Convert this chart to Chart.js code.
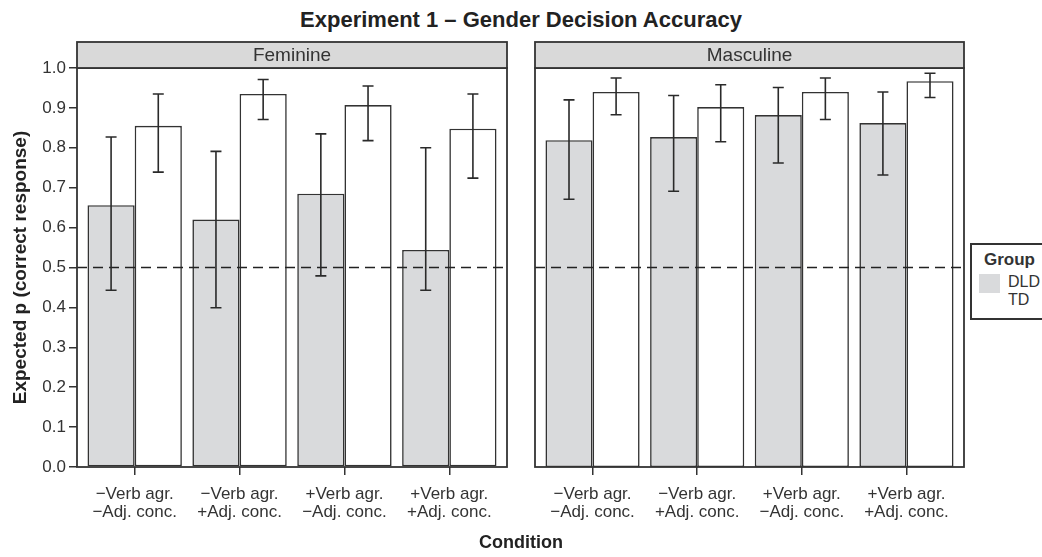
<!DOCTYPE html>
<html>
<head>
<meta charset="utf-8">
<script src="https://cdn.jsdelivr.net/npm/chart.js@4"></script>
<style>
  body { margin: 0; background: #fff; overflow: hidden; font-family: 'Liberation Sans', Arial, sans-serif; }
  #wrap { position: relative; width: 1042px; height: 557px; }
  canvas { position: absolute; top: 0; }
  #title { position: absolute; left: 0; width: 1042px; top: 7px; text-align: center; font-weight: bold; font-size: 22px; color: #222; }
  #xtitle { position: absolute; left: 0; width: 1042px; top: 532px; text-align: center; font-weight: bold; font-size: 18px; color: #222; }
  #legend { position: absolute; left: 970px; top: 243px; width: 90px; height: 73px; border: 2px solid #333; color: #333; }
  #legend .head { position: absolute; left: 12px; top: 5px; font-weight: bold; font-size: 17px; }
  #legend .sw { position: absolute; left: 7px; top: 29px; width: 21px; height: 19px; background: #d9dadc; }
  #legend .lab { position: absolute; left: 36px; font-size: 16px; }
</style>
</head>
<body>
<div id="wrap">
  <div id="title">Experiment 1 – Gender Decision Accuracy</div>
  <canvas id="femChart" width="512" height="557" style="left:0"></canvas>
  <canvas id="mascChart" width="450" height="557" style="left:520px"></canvas>
  <div id="xtitle">Condition</div>
  <div id="legend">
    <div class="head">Group</div>
    <div class="sw"></div>
    <div class="lab" style="top:28px">DLD</div>
    <div class="lab" style="top:46px">TD</div>
  </div>
</div>
<script>
const categories = [
  ['−Verb agr.', '−Adj. conc.'],
  ['−Verb agr.', '+Adj. conc.'],
  ['+Verb agr.', '−Adj. conc.'],
  ['+Verb agr.', '+Adj. conc.']
];
const yTicks = [0, 0.1, 0.2, 0.3, 0.4, 0.5, 0.6, 0.7, 0.8, 0.9, 1.0];
const chanceLevel = 0.5;

// Feminine panel
const femDLD = [0.656, 0.620, 0.685, 0.544];
const femDLDLow = [0.443, 0.399, 0.479, 0.443];
const femDLDHigh = [0.827, 0.791, 0.835, 0.800];
const femTD = [0.855, 0.935, 0.907, 0.848];
const femTDLow = [0.739, 0.871, 0.818, 0.724];
const femTDHigh = [0.935, 0.971, 0.955, 0.935];

// Masculine panel
const mascDLD = [0.819, 0.827, 0.882, 0.862];
const mascDLDLow = [0.671, 0.691, 0.762, 0.732];
const mascDLDHigh = [0.920, 0.931, 0.951, 0.940];
const mascTD = [0.940, 0.902, 0.940, 0.967];
const mascTDLow = [0.883, 0.815, 0.871, 0.926];
const mascTDHigh = [0.975, 0.958, 0.975, 0.987];

Chart.defaults.font.family = "'Liberation Sans', Arial, sans-serif";
Chart.defaults.color = '#333';

const lineColor = '#333';

// strip, frame, dashed chance line and error bars
const panelDecor = {
  id: 'panelDecor',
  afterDatasetsDraw(chart, args, opts) {
    const { ctx, chartArea: a, scales } = chart;
    const y = scales.y;
    ctx.save();
    ctx.strokeStyle = '#222';
    ctx.lineWidth = 1.5;
    ctx.setLineDash([10, 6]);
    const yc = y.getPixelForValue(chanceLevel);
    ctx.beginPath();
    ctx.moveTo(a.left, yc);
    ctx.lineTo(a.right, yc);
    ctx.stroke();
    ctx.setLineDash([]);

    ctx.strokeStyle = '#2a2a2a';
    ctx.lineWidth = 1.6;
    chart.data.datasets.forEach((ds, i) => {
      chart.getDatasetMeta(i).data.forEach((bar, j) => {
        const lo = y.getPixelForValue(ds.lows[j]);
        const hi = y.getPixelForValue(ds.highs[j]);
        ctx.beginPath();
        ctx.moveTo(bar.x, lo); ctx.lineTo(bar.x, hi);
        ctx.moveTo(bar.x - 5.5, lo); ctx.lineTo(bar.x + 5.5, lo);
        ctx.moveTo(bar.x - 5.5, hi); ctx.lineTo(bar.x + 5.5, hi);
        ctx.stroke();
      });
    });
    ctx.restore();
  },
  afterDraw(chart, args, opts) {
    const { ctx, chartArea: a } = chart;
    ctx.save();
    ctx.strokeStyle = lineColor;
    ctx.lineWidth = 1.8;
    ctx.strokeRect(a.left, a.top, a.right - a.left, a.bottom - a.top);
    ctx.fillStyle = '#d9d9d9';
    ctx.fillRect(a.left, 42, a.right - a.left, a.top - 42);
    ctx.strokeRect(a.left, 42, a.right - a.left, a.top - 42);
    ctx.fillStyle = '#333';
    ctx.font = "19px 'Liberation Sans', Arial, sans-serif";
    ctx.textAlign = 'center';
    ctx.textBaseline = 'middle';
    ctx.fillText(opts.strip, (a.left + a.right) / 2, (42 + a.top) / 2 + 1);
    ctx.restore();
  }
};

function makePanel(id, strip, dld, dldLo, dldHi, td, tdLo, tdHi, showY) {
  const pts = vals => vals.map((v, i) => ({ x: i + 1, y: v }));
  return new Chart(document.getElementById(id), {
    type: 'bar',
    data: {
      datasets: [
        { label: 'DLD', data: pts(dld), lows: dldLo, highs: dldHi, backgroundColor: '#d9dadc' },
        { label: 'TD', data: pts(td), lows: tdLo, highs: tdHi, backgroundColor: '#ffffff' }
      ]
    },
    plugins: [panelDecor],
    options: {
      responsive: false,
      animation: false,
      layout: { padding: showY ? { top: 68, right: 5, left: 0, bottom: 0 } : { top: 68, right: 6, left: 15, bottom: 0 } },
      datasets: {
        bar: {
          categoryPercentage: 0.9,
          barPercentage: 1.0,
          borderColor: '#333',
          borderWidth: 1.6,
          borderSkipped: false
        }
      },
      scales: {
        x: {
          type: 'linear',
          offset: false,
          min: 0.45,
          max: 4.55,
          afterBuildTicks: s => { s.ticks = categories.map((c, i) => ({ value: i + 1 })); },
          afterFit: s => { s.height = 90; },
          border: { display: false },
          grid: { offset: false, drawOnChartArea: false, drawTicks: true, tickLength: 8, color: lineColor, lineWidth: 1.5 },
          ticks: {
            padding: 10,
            color: '#333',
            font: { size: 17, lineHeight: 1.08 },
            maxRotation: 0,
            autoSkip: false,
            callback: v => categories[Math.round(v) - 1]
          }
        },
        y: {
          display: showY,
          min: 0,
          max: 1,
          afterBuildTicks: s => { s.ticks = yTicks.map(v => ({ value: v })); },
          afterFit: s => { if (showY) s.width = 77; },
          border: { display: false },
          grid: { drawOnChartArea: false, drawTicks: true, tickLength: 8, color: lineColor, lineWidth: 1.5 },
          ticks: {
            padding: 3,
            color: '#333',
            font: { size: 17 },
            callback: v => v.toFixed(1)
          },
          title: {
            display: true,
            text: 'Expected p (correct response)',
            color: '#222',
            font: { size: 19, weight: 'bold' },
            padding: { top: 9, bottom: 0 }
          }
        }
      },
      plugins: {
        legend: { display: false },
        tooltip: { enabled: false },
        panelDecor: { strip: strip }
      }
    }
  });
}

makePanel('femChart', 'Feminine', femDLD, femDLDLow, femDLDHigh, femTD, femTDLow, femTDHigh, true);
makePanel('mascChart', 'Masculine', mascDLD, mascDLDLow, mascDLDHigh, mascTD, mascTDLow, mascTDHigh, false);
</script>
</body>
</html>
